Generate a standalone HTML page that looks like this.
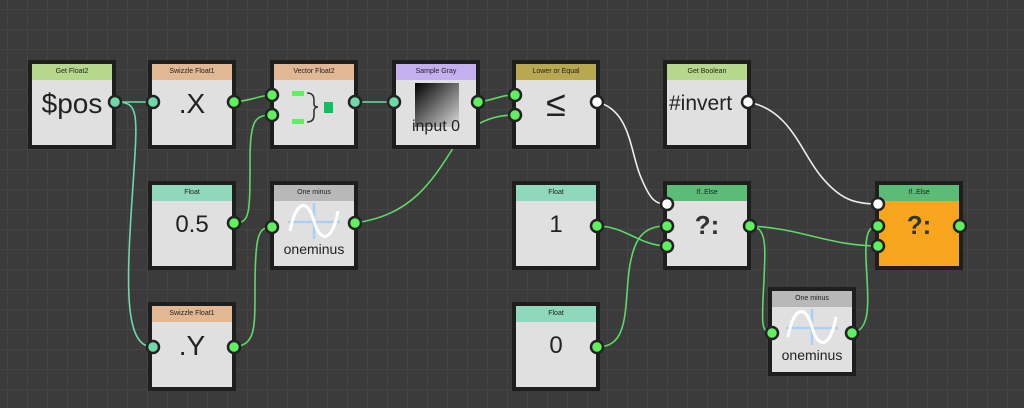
<!DOCTYPE html>
<html><head><meta charset="utf-8"><style>
body{margin:0;width:1024px;height:408px;overflow:hidden;background:#3b3b3b;
background-image:linear-gradient(#444 1px,transparent 1px),linear-gradient(90deg,#444 1px,transparent 1px);
background-size:20px 20px;background-position:7px 9px;font-family:"Liberation Sans",sans-serif}
.n{position:absolute;width:80px;height:81px;border:4px solid #1e1e1e;background:#e0e0e0;box-sizing:content-box}
.h{height:16px;font-size:7px;color:#222;text-align:center;line-height:16px}
.b{position:absolute;left:0;right:0;top:16px;bottom:0;text-align:center;color:#222}
.big{font-size:28px;line-height:48px}
svg{position:absolute;left:0;top:0}
</style></head><body>
<svg width="1024" height="408" style="z-index:0">
<g fill="none" stroke-width="1.6" stroke="#5fd86a">
<path d="M115 102 L153 102" stroke="#6fd8a8"/>
<path d="M115 102 C140 102 138 110 132 200 C126 290 125 347 153 347" stroke="#6fd8a8"/>
<path d="M234 102 C255 100 260 95 272 95"/>
<path d="M234 223 C250 223 250 215 250 160 C250 120 255 115 272 115"/>
<path d="M355 102 L394 102" stroke="#6fd8a8"/>
<path d="M478 102 C495 100 500 95 515 95"/>
<path d="M355 223 C410 215 430 185 455 145 C470 125 490 115 515 115"/>
<path d="M234 347 C255 345 255 330 255 290 C255 235 258 227 272 227"/>
<path d="M597 226 C625 226 640 246 667 246"/>
<path d="M597 347 C625 347 625 320 628 280 C632 235 645 226 667 226"/>
<path d="M750 226 C800 228 830 246 878 246"/>
<path d="M750 226 C768 226 765 250 764 280 C762 320 760 333 772 333"/>
<path d="M852 333 C872 330 868 300 866 260 C865 235 868 226 878 226"/>
</g>
<g fill="none" stroke="#eee" stroke-width="1.6">
<path d="M597 102 C630 110 630 150 640 175 C650 200 655 204 667 204"/>
<path d="M748 102 C790 110 800 150 820 175 C840 200 855 204 878 204"/>
</g>
</svg>

<div class="n" style="left:28px;top:60px"><div class="h" style="background:#b6d88a">Get Float2</div><div class="b big">$pos</div></div>
<div class="n" style="left:148px;top:60px"><div class="h" style="background:#e2b894">Swizzle Float1</div><div class="b big">.X</div></div>
<div class="n" style="left:270px;top:60px"><div class="h" style="background:#e2b894">Vector Float2</div><div class="b">
<svg width="80" height="65" style="position:absolute;left:0;top:0"><rect x="18" y="11" width="12" height="5" fill="#5ef05e"/><rect x="18" y="39" width="12" height="5" fill="#5ef05e"/><path d="M33 13 Q40 13 40 20 L40 24 Q40 27 44 27 Q40 27 40 31 L40 35 Q40 42 33 42" fill="none" stroke="#333" stroke-width="1.6"/><rect x="50" y="22" width="9" height="11" fill="#10c060"/></svg></div></div>
<div class="n" style="left:392px;top:60px"><div class="h" style="background:#c4b0f0">Sample Gray</div><div class="b">
<div style="position:absolute;left:19px;top:3px;width:44px;height:44px;background:linear-gradient(135deg,#000,#ddd)"></div>
<div style="position:absolute;left:0;right:0;top:38px;font-size:16px">input 0</div></div></div>
<div class="n" style="left:512px;top:60px"><div class="h" style="background:#b8a850">Lower or Equal</div><div class="b big" style="font-size:36px">≤</div></div>
<div class="n" style="left:663px;top:60px"><div class="h" style="background:#b6d88a">Get Boolean</div><div class="b big" style="font-size:21px;text-align:left;padding-left:2px">#invert</div></div>

<div class="n" style="left:148px;top:181px"><div class="h" style="background:#8fd8bc">Float</div><div class="b big" style="font-size:24px">0.5</div></div>
<div class="n" style="left:270px;top:181px"><div class="h" style="background:#b8b8b8">One minus</div><div class="b">
<svg width="80" height="40" style="position:absolute;left:0;top:0"><path d="M40 2 V38 M14 21 H66" stroke="#a8d0f8" stroke-width="2.5"/><path d="M16 30 C22 -2 34 -2 40 20 C46 42 58 42 64 10" fill="none" stroke="#fff" stroke-width="3"/></svg>
<div style="position:absolute;left:0;right:0;top:40px;font-size:14px">oneminus</div></div></div>
<div class="n" style="left:512px;top:181px"><div class="h" style="background:#8fd8bc">Float</div><div class="b big" style="font-size:24px">1</div></div>
<div class="n" style="left:663px;top:181px"><div class="h" style="background:#5dbb78">If..Else</div><div class="b big" style="font-weight:bold;font-size:26px;color:#333">?:</div></div>
<div class="n" style="left:875px;top:181px;background:#f7a51c"><div class="h" style="background:#5dbb78">If..Else</div><div class="b big" style="font-weight:bold;font-size:26px;color:#333">?:</div></div>

<div class="n" style="left:148px;top:302px"><div class="h" style="background:#e2b894">Swizzle Float1</div><div class="b big">.Y</div></div>
<div class="n" style="left:512px;top:302px"><div class="h" style="background:#8fd8bc">Float</div><div class="b big" style="font-size:24px">0</div></div>
<div class="n" style="left:768px;top:287px"><div class="h" style="background:#b8b8b8">One minus</div><div class="b">
<svg width="80" height="40" style="position:absolute;left:0;top:0"><path d="M40 2 V38 M14 21 H66" stroke="#a8d0f8" stroke-width="2.5"/><path d="M16 30 C22 -2 34 -2 40 20 C46 42 58 42 64 10" fill="none" stroke="#fff" stroke-width="3"/></svg>
<div style="position:absolute;left:0;right:0;top:40px;font-size:14px">oneminus</div></div></div>

<svg width="1024" height="408" style="z-index:5">
<g stroke="#222" stroke-width="2.5">
<circle cx="115" cy="102" r="6" fill="#6fd8a8"/>
<circle cx="153" cy="102" r="6" fill="#6fd8a8"/>
<circle cx="234" cy="102" r="6" fill="#5ef05e"/>
<circle cx="272" cy="95" r="6" fill="#5ef05e"/>
<circle cx="272" cy="115" r="6" fill="#5ef05e"/>
<circle cx="355" cy="102" r="6" fill="#6fd8a8"/>
<circle cx="394" cy="102" r="6" fill="#6fd8a8"/>
<circle cx="478" cy="102" r="6" fill="#5ef05e"/>
<circle cx="515" cy="95" r="6" fill="#5ef05e"/>
<circle cx="515" cy="115" r="6" fill="#5ef05e"/>
<circle cx="597" cy="102" r="6" fill="#fff"/>
<circle cx="748" cy="102" r="6" fill="#fff"/>
<circle cx="234" cy="223" r="6" fill="#5ef05e"/>
<circle cx="272" cy="227" r="6" fill="#5ef05e"/>
<circle cx="355" cy="223" r="6" fill="#5ef05e"/>
<circle cx="597" cy="226" r="6" fill="#5ef05e"/>
<circle cx="667" cy="204" r="6" fill="#fff"/>
<circle cx="667" cy="226" r="6" fill="#5ef05e"/>
<circle cx="667" cy="246" r="6" fill="#5ef05e"/>
<circle cx="750" cy="226" r="6" fill="#5ef05e"/>
<circle cx="878" cy="204" r="6" fill="#fff"/>
<circle cx="878" cy="226" r="6" fill="#5ef05e"/>
<circle cx="878" cy="246" r="6" fill="#5ef05e"/>
<circle cx="960" cy="226" r="6" fill="#5ef05e"/>
<circle cx="153" cy="347" r="6" fill="#6fd8a8"/>
<circle cx="234" cy="347" r="6" fill="#5ef05e"/>
<circle cx="597" cy="347" r="6" fill="#5ef05e"/>
<circle cx="772" cy="333" r="6" fill="#5ef05e"/>
<circle cx="852" cy="333" r="6" fill="#5ef05e"/>
</g></svg>
</body></html>
